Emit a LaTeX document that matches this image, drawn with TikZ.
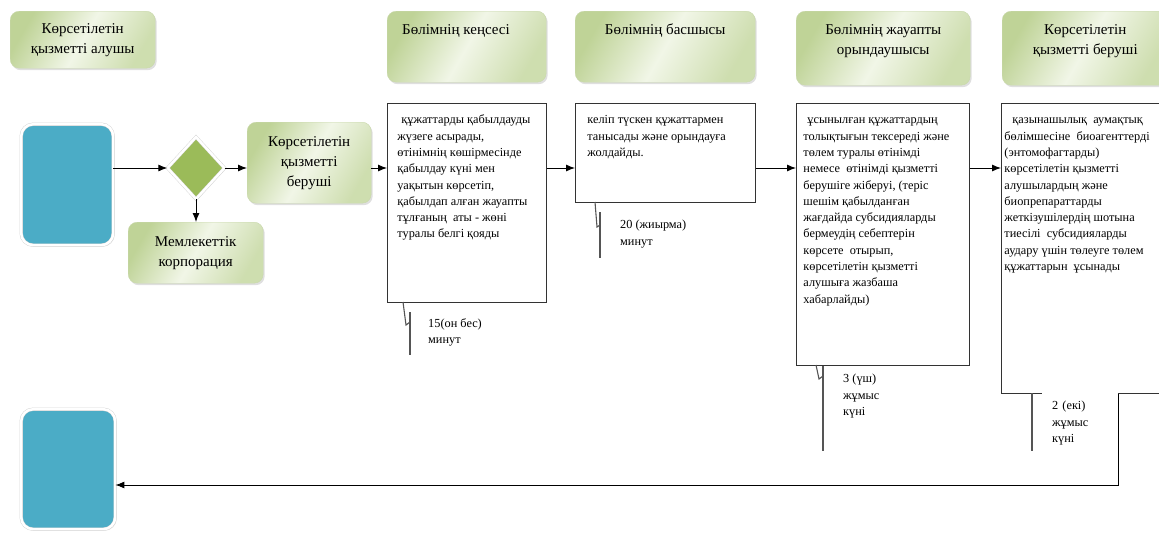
\documentclass[tikz,border=0pt]{standalone}
\usepackage{fontspec}
\setmainfont{Liberation Serif}
\usepackage{xcolor}
\usetikzlibrary{arrows.meta,positioning,shapes.geometric,shadows}
\definecolor{hdrDark}{HTML}{BFD397}
\definecolor{hdrLight}{HTML}{F1F6E7}
\definecolor{hdrEdge}{HTML}{C9D8AC}
\definecolor{termBlue}{HTML}{4BACC6}
\definecolor{gateGreen}{HTML}{9BBB59}
\definecolor{lineGray}{HTML}{555555}
\newcommand{\hdrfont}{\fontsize{15}{20}\selectfont}
\newcommand{\boxfont}{\fontsize{12.3}{16.3}\selectfont}
\newcommand{\topcell}[4]{\parbox[t][#2][t]{#1}{#3\vspace*{9pt}\strut#4}}

\begin{document}
\begin{tikzpicture}[x=1pt, y=-1pt,
        hdr/.style={draw=hdrEdge, rounded corners=9pt, left color=hdrDark,
                    right color=hdrDark!70!hdrLight, middle color=hdrLight, shading angle=60,
                    inner sep=0pt, anchor=north west, align=center, font=\hdrfont,
                    drop shadow={shadow xshift=1.5pt, shadow yshift=-2pt, opacity=.25}},
        term/.style={draw=black!18, double=white, double distance=2.5pt, fill=termBlue,
                     rounded corners=12pt, anchor=north west, inner sep=0pt,
                     drop shadow={shadow xshift=1.5pt, shadow yshift=-1.5pt, opacity=.2}},
        proc/.style={draw=black!80, line width=0.9pt, fill=white, inner sep=0pt,
                     anchor=north west, font=\boxfont},
        dur/.style={inner sep=0pt, anchor=north west, align=left, font=\boxfont},
        arr/.style={-{Latex[length=9pt,width=7pt]}, line width=0.9pt},
        callout/.style={lineGray, line width=1.1pt},
    ]
    \clip (0,0) rectangle (1159,533);

    % lane headers
    \node[hdr, minimum width=145pt, minimum height=57pt] (h1) at (10,11) {Көрсетілетін\\қызметті алушы};
    \node[hdr] (h2) at (387,11) {\topcell{159pt}{71pt}{\raggedright\leftskip=15pt}{Бөлімнің кеңсесі}};
    \node[hdr] (h3) at (575,11) {\topcell{180pt}{71pt}{\centering}{Бөлімнің басшысы}};
    \node[hdr] (h4) at (796,11) {\topcell{174pt}{74pt}{\centering}{Бөлімнің жауапты\\орындаушысы}};
    \node[hdr] (h5) at (1002,11) {\topcell{166pt}{74pt}{\centering}{Көрсетілетін\\қызметті беруші}};

    % start, gate and the two green steps
    \coordinate (row) at (0,168);
    \node[term, minimum width=92pt, minimum height=121pt] (in1) at (21,124) {};
    \node[diamond, draw=black!18, double=white, double distance=2.5pt, fill=gateGreen,
          inner sep=0pt, minimum width=57pt, minimum height=62pt,
          drop shadow={shadow xshift=1pt, shadow yshift=-1.5pt, opacity=.2}] (dia) at (196,168) {};
    \node[hdr, minimum width=124pt, minimum height=81pt] (giver) at (247,122) {Көрсетілетін\\қызметті\\беруші};
    \node[hdr, minimum width=135pt, minimum height=61pt] (corp) at (128,222) {Мемлекеттік\\корпорация};

    % process boxes
    \node[proc] (b1) at (387,103) {\topcell{159pt}{199pt}{\raggedright\leftskip=10pt}{\hspace{4pt}құжаттарды қабылдауды\\жүзеге асырады,\\өтінімнің көшірмесінде\\қабылдау күні мен\\уақытын көрсетіп,\\қабылдап алған жауапты\\тұлғаның\ \ аты - жөні\\туралы белгі қояды}};
    \node[proc] (b2) at (575,103) {\topcell{180pt}{99pt}{\raggedright\leftskip=12pt}{келіп түскен құжаттармен\\танысады және орындауға\\жолдайды.}};
    \node[proc] (b3) at (796,103) {\topcell{173pt}{262pt}{\raggedright\leftskip=7pt}{\hspace{4pt}ұсынылған құжаттардың\\толықтығын тексереді және\\төлем туралы өтінімді\\немесе\ \ өтінімді қызметті\\берушіге жіберуі, (теріс\\шешім қабылданған\\жағдайда субсидияларды\\бермеудің себептерін\\көрсете\ \ отырып,\\көрсетілетін қызметті\\алушыға жазбаша\\хабарлайды)}};
    \node[proc] (b4) at (1001,103) {\topcell{175pt}{290pt}{\raggedright\leftskip=3pt}{\hspace{8pt}қазынашылық\ \ аумақтық\\бөлімшесіне\ \ биоагенттерді\\(энтомофагтарды)\\көрсетілетін қызметті\\алушылардың және\\биопрепараттарды\\жеткізушілердің шотына\\тиесілі\ \ субсидияларды\\аудару үшін төлеуге төлем\\құжаттарын\ \ ұсынады}};

    % durations
    \node[dur] (t1) at (428,318) {15(он бес)\\минут};
    \node[dur] (t2) at (620,220) {20 (жиырма)\\минут};
    \node[dur] (t3) at (843,374) {3 (үш)\\жұмыс\\күні};
    \node[dur, fill=white, text width=56pt, inner xsep=10pt, inner ysep=10pt] (t4) at (1042,391) {2 (екі)\\жұмыс\\күні};

    \draw[callout] (403,302) -- (406,325) -- (410,322);
    \draw[callout] (410,312) -- (410,355);
    \draw[callout] (595,202) -- (597,227) -- (600,225);
    \draw[callout] (600,212) -- (600,258);
    \draw[callout] (816,365) -- (819,379) -- (823,376);
    \draw[callout] (823,366) -- (823,451);
    \draw[callout] (1032,393) -- (1032,451);

    % end
    \node[term, minimum width=94pt, minimum height=120pt] (in2) at (21,409) {};

    \draw[arr] (in1.east |- row) -- (dia.west);
    \draw[arr] (dia.east) -- (giver.west |- row);
    \draw[arr] (dia.south) -- (corp.north -| dia.south);
    \draw[arr] (giver.east |- row) -- (b1.west |- row);
    \draw[arr] (b1.east |- row) -- (b2.west |- row);
    \draw[arr] (b2.east |- row) -- (b3.west |- row);
    \draw[arr] (b3.east |- row) -- (b4.west |- row);
    \coordinate (ret) at (1118,485);
    \draw[arr] (b4.south -| ret) -- (ret) -- (in2.east |- ret);
\end{tikzpicture}
\end{document}
